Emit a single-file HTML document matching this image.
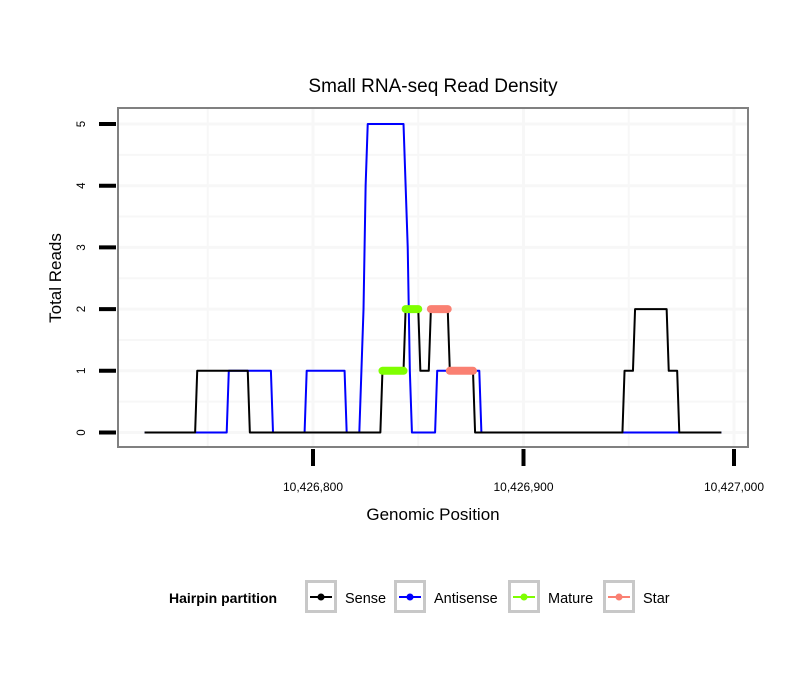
<!DOCTYPE html>
<html><head><meta charset="utf-8"><style>
body{margin:0;background:#fff;}
svg{display:block;font-family:"Liberation Sans",sans-serif;}
</style></head><body>
<svg id="chart" width="810" height="690">
<text x="433" y="92" font-size="19" text-anchor="middle">Small RNA-seq Read Density</text>
<g id="grid"></g>
<g id="series"></g>
<rect x="118" y="108" width="630" height="339" fill="none" stroke="#808080" stroke-width="2"/>
<g id="axes"></g>
<text x="433" y="520" font-size="17" text-anchor="middle">Genomic Position</text>
<text transform="translate(61,278) rotate(-90)" font-size="17" text-anchor="middle">Total Reads</text>
<g>
<text x="169" y="603" font-size="14" font-weight="bold">Hairpin partition</text>
</g>
<g id="legend"></g>
</svg>
<script>
const senseX=[10426720,10426744,10426745,10426769,10426770,10426832,10426833,10426843,10426844,10426850,10426851,10426855,10426856,10426864,10426865,10426876,10426877,10426947,10426948,10426952,10426953,10426968,10426969,10426973,10426974,10426994];
const senseY=[0,0,1,1,0,0,1,1,2,2,1,1,2,2,1,1,0,0,1,1,2,2,1,1,0,0];
const antiX=[10426720,10426759,10426760,10426780,10426781,10426796,10426797,10426815,10426816,10426822,10426823,10426824,10426825,10426826,10426843,10426844,10426845,10426846,10426847,10426858,10426859,10426879,10426880,10426994];
const antiY=[0,0,1,1,0,0,1,1,0,0,1,2,4,5,5,4,3,1,0,0,1,1,0,0];
const matureSegs=[[10426833,10426843,1],[10426844,10426850,2]];
const starSegs=[[10426856,10426864,2],[10426865,10426876,1]];
const xTicks=[10426800,10426900,10427000];
const xTickLabels=["10,426,800","10,426,900","10,427,000"];
const yTicks=[0,1,2,3,4,5];
const NS="http://www.w3.org/2000/svg";
const xs=p=>313+(p-10426800)*2.105;
const ys=v=>432.5-v*61.7;
function mk(tag,attrs,parent){const e=document.createElementNS(NS,tag);for(const k in attrs)e.setAttribute(k,attrs[k]);parent.appendChild(e);return e;}
const grid=document.getElementById('grid'),ser=document.getElementById('series'),ax=document.getElementById('axes'),lg=document.getElementById('legend');
for(let v=-0.0;v<=5.25;v+=0.5){const l=mk('line',{x1:118,x2:748,y1:ys(v),y2:ys(v),stroke:'#f7f7f7','stroke-width':v%1?2:3},grid);

}
for(let p=10426700;p<=10427000;p+=50){if(xs(p)<118)continue;const l=mk('line',{x1:xs(p),x2:xs(p),y1:108,y2:447,stroke:'#f7f7f7','stroke-width':p%100?2:3},grid);

}
function poly(X,Y,c,name){const pts=X.map((x,i)=>xs(x)+','+ys(Y[i])).join(' ');const e=mk('polyline',{points:pts,fill:'none',stroke:c,'stroke-width':2,'stroke-linejoin':'round'},ser);

}
poly(antiX,antiY,'#0000ff','antisense-line');
poly(senseX,senseY,'#000000','sense-line');
function segs(S,c,name){S.forEach(s=>{const e=mk('line',{x1:xs(s[0]),x2:xs(s[1]),y1:ys(s[2]),y2:ys(s[2]),stroke:c,'stroke-width':8,'stroke-linecap':'round'},ser);

});}
segs(matureSegs,'#7fff00','mature-segment');
segs(starSegs,'#fa8072','star-segment');
yTicks.forEach(v=>{const t=mk('line',{x1:99,x2:116,y1:ys(v),y2:ys(v),stroke:'#000','stroke-width':4},ax);


const y=ys(v);const tx=mk('text',{transform:`translate(85,${y}) rotate(-90)`,'font-size':11.5,'text-anchor':'middle'},ax);tx.textContent=v;

});
xTicks.forEach((p,i)=>{const t=mk('line',{x1:xs(p),x2:xs(p),y1:449,y2:466,stroke:'#000','stroke-width':4},ax);


const tx=mk('text',{x:xs(p),y:491,'font-size':12,'text-anchor':'middle'},ax);tx.textContent=xTickLabels[i];

});
const legNames=["Sense","Antisense","Mature","Star"],legCols=["#000","#0000ff","#7fff00","#fa8072"],legX=[305,394,508,603];
legNames.forEach((n,i)=>{const g=mk('g',{},lg);


mk('rect',{x:legX[i]+1.5,y:581.5,width:29,height:30,fill:'#fff',stroke:'#c8c8c8','stroke-width':3},g);
mk('line',{x1:legX[i]+5,x2:legX[i]+27,y1:597,y2:597,stroke:legCols[i],'stroke-width':2},g);
mk('circle',{cx:legX[i]+16,cy:597,r:3.5,fill:legCols[i]},g);
const t=mk('text',{x:legX[i]+40,y:603,'font-size':14.5},g);t.textContent=n;});
</script>
</body></html>
